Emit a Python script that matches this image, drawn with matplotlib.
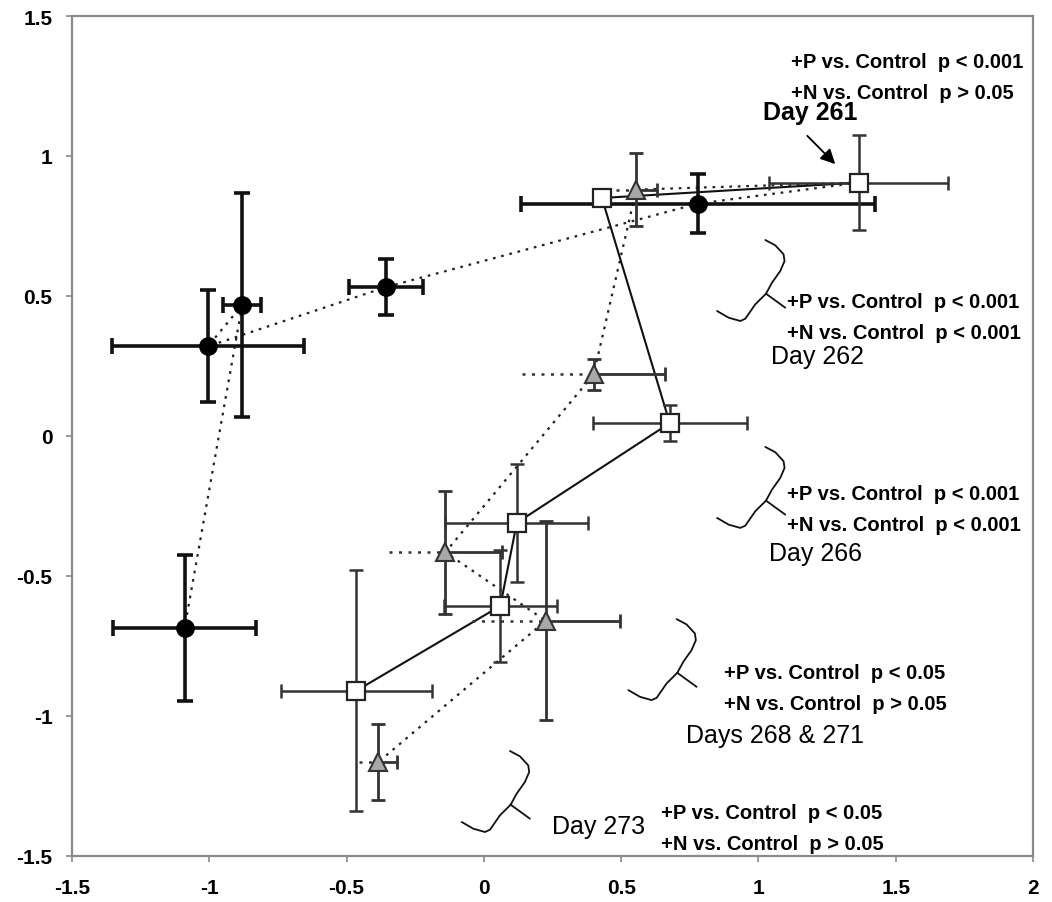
import numpy as np
import matplotlib
matplotlib.use('Agg')
import matplotlib.pyplot as plt

plt.rcParams['font.family'] = ['Liberation Sans', 'DejaVu Sans']

# sampling days, shared by the three treatments
days = [261, 262, 266, 268, 271, 273]

# open squares, solid line
sq_x = [1.365, 0.43, 0.677, 0.12, 0.06, -0.465]
sq_y = [0.905, 0.85, 0.046, -0.31, -0.607, -0.91]
sq_xerr = [0.325, 0.0, 0.28, 0.26, 0.205, 0.275]
sq_yerr = [0.17, 0.0, 0.065, 0.21, 0.2, 0.43]

# black circles, dotted line (day 261 sits under the square)
ci_x = [1.365, 0.78, -0.356, -1.005, -0.88, -1.09]
ci_y = [0.905, 0.83, 0.532, 0.32, 0.468, -0.686]
ci_xerr = [0.0, 0.645, 0.135, 0.35, 0.07, 0.26]
ci_yerr = [0.0, 0.105, 0.1, 0.2, 0.4, 0.26]

# grey triangles, dotted line (day 261 sits under the square)
tr_x = [1.365, 0.555, 0.40, -0.14, 0.225, -0.385]
tr_y = [0.905, 0.88, 0.22, -0.415, -0.66, -1.165]
tr_xerr = [0.0, 0.075, 0.26, 0.205, 0.27, 0.07]
tr_yerr = [0.0, 0.13, 0.055, 0.22, 0.355, 0.135]

# statistics annotations: (x, y) of first line, texts
stat_pos = [(1.12, 1.336), (1.105, 0.479), (1.105, -0.207), (0.873, -0.846), (0.644, -1.346)]
stat_txt = [('+P vs. Control  p < 0.001', '+N vs. Control  p > 0.05'),
            ('+P vs. Control  p < 0.001', '+N vs. Control  p < 0.001'),
            ('+P vs. Control  p < 0.001', '+N vs. Control  p < 0.001'),
            ('+P vs. Control  p < 0.05', '+N vs. Control  p > 0.05'),
            ('+P vs. Control  p < 0.05', '+N vs. Control  p > 0.05')]
day_lbl = ['Day 261', 'Day 262', 'Day 266', 'Days 268 & 271', 'Day 273']
day_pos = [(1.018, 1.157), (1.044, 0.286), (1.04, -0.418), (0.735, -1.068), (0.247, -1.393)]
brace_pos = [(1.025, 0.70), (1.025, -0.039), (0.702, -0.654), (0.095, -1.125)]

fig = plt.figure(figsize=(10.52, 9.03), dpi=100)
ax = fig.add_axes([72/1052, 46/903, 961/1052, 840/903])

dots = (0, (1.2, 2.6))

# lines
ax.plot(ci_x, ci_y, color='#222222', lw=1.6, ls=dots, zorder=2)
ax.plot(tr_x, tr_y, color='#222222', lw=1.6, ls=dots, zorder=2)
ax.plot(sq_x, sq_y, color='#111111', lw=1.5, ls='-', zorder=2)

# circles
ax.errorbar(ci_x[1:], ci_y[1:], xerr=ci_xerr[1:], yerr=ci_yerr[1:], fmt='none',
            ecolor='#111111', elinewidth=2.6, capsize=5.5, capthick=2.6, zorder=3)
ax.plot(ci_x[1:], ci_y[1:], 'o', color='black', ms=12.5, zorder=5)

# triangles: left x error drawn dotted, the rest solid
zero = np.zeros(len(tr_x) - 1)
eb = ax.errorbar(tr_x[1:], tr_y[1:], xerr=[tr_xerr[1:], zero], fmt='none',
                 ecolor='#333333', elinewidth=1.8, capsize=0, zorder=3)
for lc in eb[2]:
    lc.set_linestyle((0, (1.2, 2.6)))
ax.errorbar(tr_x[1:], tr_y[1:], xerr=[zero, tr_xerr[1:]], yerr=tr_yerr[1:], fmt='none',
            ecolor='#333333', elinewidth=2.0, capsize=5, capthick=2.0, zorder=3)
ax.plot(tr_x[1:], tr_y[1:], '^', color='#a8a8a8', mec='#333333', mew=1.5, ms=13, zorder=5)

# squares
ax.errorbar(sq_x, sq_y, xerr=sq_xerr, yerr=sq_yerr, fmt='none',
            ecolor='#333333', elinewidth=1.8, capsize=5, capthick=1.8, zorder=4)
ax.plot(sq_x, sq_y, 's', color='white', mec='#222222', mew=1.6, ms=12.5, zorder=6)

# braces
bx = np.array([0, 10, 18.3, 19.3, 15, 6.7, 0.7])
by = np.array([0, 5.3, 14.3, 21, 31, 42.7, 53.7])
lx = np.array([0.7, -10, -20, -25, -36.7, -48.3])
ly = np.array([53.7, 64.3, 78.7, 81, 77.7, 71])
tx = np.array([0.7, 20])
ty = np.array([53.7, 67.7])
for x0, y0 in brace_pos:
    for px, py in [(bx, by), (lx, ly), (tx, ty)]:
        ax.plot(x0 + px / 275.0, y0 - py / 280.0, color='#111111', lw=1.3,
                solid_capstyle='round', zorder=2)

for (x0, y0), (t1, t2) in zip(stat_pos, stat_txt):
    ax.text(x0, y0, t1, fontsize=14.5, fontweight='bold', va='center', ha='left')
    ax.text(x0, y0 - 0.108, t2, fontsize=14.5, fontweight='bold', va='center', ha='left')

for i, ((x0, y0), lbl) in enumerate(zip(day_pos, day_lbl)):
    ax.text(x0, y0, lbl, fontsize=18, fontweight='bold' if i == 0 else 'normal',
            va='center', ha='left')

ax.annotate('', xy=(1.287, 0.964), xytext=(1.171, 1.079),
            arrowprops=dict(arrowstyle='-|>', color='black', lw=1.3, mutation_scale=22))

ax.set_xlim(-1.5, 2)
ax.set_ylim(-1.5, 1.5)
ax.set_xticks([-1.5, -1, -0.5, 0, 0.5, 1, 1.5, 2])
ax.set_xticklabels(['-1.5', '-1', '-0.5', '0', '0.5', '1', '1.5', '2'])
ax.set_yticks([-1.5, -1, -0.5, 0, 0.5, 1, 1.5])
ax.set_yticklabels(['-1.5', '-1', '-0.5', '0', '0.5', '1', '1.5'])
for s in ax.spines.values():
    s.set_color('#8a8a8a')
    s.set_linewidth(1.6)
ax.tick_params(direction='out', length=4, width=1.2, color='#8a8a8a', labelsize=15)
ax.tick_params(axis='x', pad=12)
ax.tick_params(axis='y', pad=10)
for lab in ax.get_xticklabels() + ax.get_yticklabels():
    lab.set_fontweight('bold')

fig.savefig('out.png', dpi=100)
